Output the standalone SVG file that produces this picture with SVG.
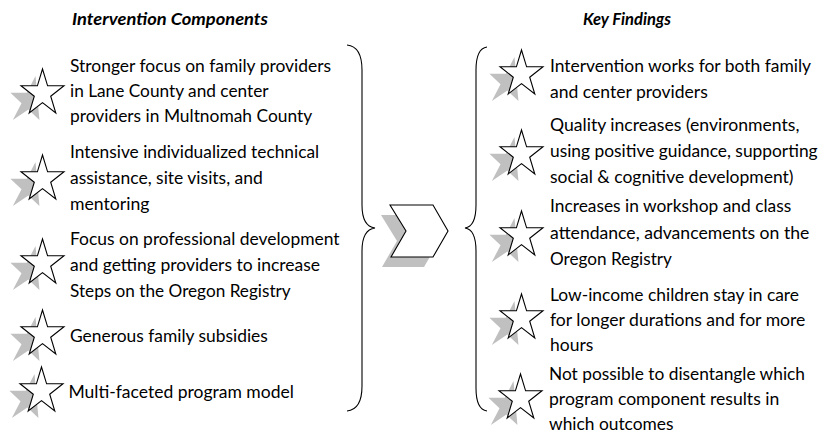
<svg xmlns="http://www.w3.org/2000/svg" width="833" height="433" viewBox="0 0 833 433">
  <style>
    text { font-family: Lato, "Open Sans", "Liberation Sans", sans-serif; font-size: 17px; fill: #000; }
    .hd { font-weight: bold; font-style: italic; }
    .star { fill: #fff; stroke: #000; stroke-width: 1.1; stroke-linejoin: miter; }
    .shadow { fill: #c0c0c0; stroke: none; }
    .brace { fill: none; stroke: #000; stroke-width: 1.1; }
    .chev { fill: #fff; stroke: #000; stroke-width: 1.1; stroke-linejoin: miter; }
  </style>
  <defs>
    <!-- five-point star in a 43 x 44 box -->
    <path id="star" d="M21.5,0 L26.6,16.8 L43,16.8 L29.7,27.2 L34.8,44 L21.5,33.6 L8.2,44 L13.3,27.2 L0,16.8 L16.4,16.8 Z"/>
  </defs>

  <!-- column headings -->
  <text id="head-left" class="hd" x="72" y="24.5" textLength="196" lengthAdjust="spacingAndGlyphs">Intervention Components</text>
  <text id="head-right" class="hd" x="583" y="24.5" textLength="88" lengthAdjust="spacingAndGlyphs">Key Findings</text>

  <!-- left column: intervention components -->
  <g id="comp-focus">
    <use href="#star" class="shadow" transform="translate(21,69) translate(-7,7) skewX(-12)"/>
    <use href="#star" class="star" transform="translate(21,69)"/>
    <text x="70" y="72" textLength="261" lengthAdjust="spacingAndGlyphs">Stronger focus on family providers</text>
    <text x="70" y="97" textLength="198.6" lengthAdjust="spacingAndGlyphs">in Lane County and center</text>
    <text x="70" y="122" textLength="242.2" lengthAdjust="spacingAndGlyphs">providers in Multnomah County</text>
  </g>
  <g id="comp-assistance">
    <use href="#star" class="shadow" transform="translate(21,155) translate(-7,7) skewX(-12)"/>
    <use href="#star" class="star" transform="translate(21,155)"/>
    <text x="70" y="158" textLength="249.1" lengthAdjust="spacingAndGlyphs">Intensive individualized technical</text>
    <text x="70" y="184" textLength="192.8" lengthAdjust="spacingAndGlyphs">assistance, site visits, and</text>
    <text x="70" y="210" textLength="79.5" lengthAdjust="spacingAndGlyphs">mentoring</text>
  </g>
  <g id="comp-development">
    <use href="#star" class="shadow" transform="translate(21,239) translate(-7,7) skewX(-12)"/>
    <use href="#star" class="star" transform="translate(21,239)"/>
    <text x="70" y="245" textLength="269.6" lengthAdjust="spacingAndGlyphs">Focus on professional development</text>
    <text x="70" y="271" textLength="250.1" lengthAdjust="spacingAndGlyphs">and getting providers to increase</text>
    <text x="70" y="297" textLength="220.7" lengthAdjust="spacingAndGlyphs">Steps on the Oregon Registry</text>
  </g>
  <g id="comp-subsidies">
    <use href="#star" class="shadow" transform="translate(21,310) translate(-7,7) skewX(-12)"/>
    <use href="#star" class="star" transform="translate(21,310)"/>
    <text x="70" y="342" textLength="197.8" lengthAdjust="spacingAndGlyphs">Generous family subsidies</text>
  </g>
  <g id="comp-model">
    <use href="#star" class="shadow" transform="translate(20,367) translate(-7,7) skewX(-12)"/>
    <use href="#star" class="star" transform="translate(20,367)"/>
    <text x="68.5" y="398" textLength="225.4" lengthAdjust="spacingAndGlyphs">Multi-faceted program model</text>
  </g>

  <!-- braces and central chevron -->
  <g id="connectors">
    <path id="brace-left" class="brace" d="M347,45 C357,46 362,55 362,70 L362,205 C362,220 367,227 375,228 C367,229 362,236 362,251 L362,386 C362,401 357,410 347,411"/>
    <path id="brace-right" class="brace" d="M487,47 C480,48 476,56 476,70 L476,205 C476,220 472,227 465,228 C472,229 476,236 476,251 L476,388 C476,402 480,410 487,411"/>
    <g id="chevron">
      <path class="shadow" transform="translate(-9,10)" d="M390,205 L433,205 L448,231 L433,257 L391,257 L406,231 Z"/>
      <path class="chev" d="M390,205 L433,205 L448,231 L433,257 L391,257 L406,231 Z"/>
    </g>
  </g>

  <!-- right column: key findings -->
  <g id="find-both">
    <use href="#star" class="shadow" transform="translate(500,50) translate(-7,7) skewX(-12)"/>
    <use href="#star" class="star" transform="translate(500,50)"/>
    <text x="550" y="72" textLength="261" lengthAdjust="spacingAndGlyphs">Intervention works for both family</text>
    <text x="550" y="98" textLength="157.8" lengthAdjust="spacingAndGlyphs">and center providers</text>
  </g>
  <g id="find-quality">
    <use href="#star" class="shadow" transform="translate(500,130) translate(-7,7) skewX(-12)"/>
    <use href="#star" class="star" transform="translate(500,130)"/>
    <text x="550" y="131" textLength="249.5" lengthAdjust="spacingAndGlyphs">Quality increases (environments,</text>
    <text x="550" y="157" textLength="267.6" lengthAdjust="spacingAndGlyphs">using positive guidance, supporting</text>
    <text x="550" y="183" textLength="243.5" lengthAdjust="spacingAndGlyphs">social &amp; cognitive development)</text>
  </g>
  <g id="find-attendance">
    <use href="#star" class="shadow" transform="translate(500,211) translate(-7,7) skewX(-12)"/>
    <use href="#star" class="star" transform="translate(500,211)"/>
    <text x="550" y="212" textLength="241.2" lengthAdjust="spacingAndGlyphs">Increases in workshop and class</text>
    <text x="550" y="239" textLength="259.3" lengthAdjust="spacingAndGlyphs">attendance, advancements on the</text>
    <text x="550" y="265" textLength="121.9" lengthAdjust="spacingAndGlyphs">Oregon Registry</text>
  </g>
  <g id="find-duration">
    <use href="#star" class="shadow" transform="translate(500,294) translate(-7,7) skewX(-12)"/>
    <use href="#star" class="star" transform="translate(500,294)"/>
    <text x="550" y="301" textLength="249" lengthAdjust="spacingAndGlyphs">Low-income children stay in care</text>
    <text x="550" y="326" textLength="255.4" lengthAdjust="spacingAndGlyphs">for longer durations and for more</text>
    <text x="550" y="351" textLength="43.3" lengthAdjust="spacingAndGlyphs">hours</text>
  </g>
  <g id="find-disentangle">
    <use href="#star" class="shadow" transform="translate(499,374) translate(-7,7) skewX(-12)"/>
    <use href="#star" class="star" transform="translate(499,374)"/>
    <text x="549" y="380" textLength="256" lengthAdjust="spacingAndGlyphs">Not possible to disentangle which</text>
    <text x="549" y="405" textLength="230.3" lengthAdjust="spacingAndGlyphs">program component results in</text>
    <text x="549" y="429.5" textLength="124.5" lengthAdjust="spacingAndGlyphs">which outcomes</text>
  </g>
</svg>
